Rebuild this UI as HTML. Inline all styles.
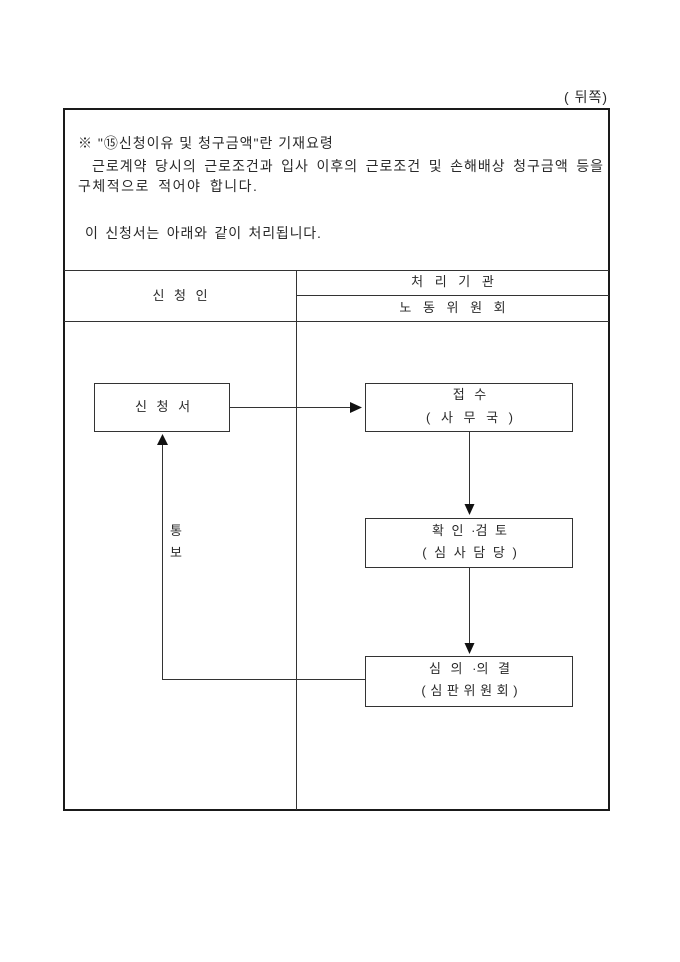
<!DOCTYPE html>
<html>
<head>
<meta charset="utf-8">
<style>
  html,body{margin:0;padding:0;background:#fff;}
  body{width:680px;height:962px;position:relative;overflow:hidden;
    font-family:"Liberation Sans","Noto Sans CJK KR","NanumGothic",sans-serif;color:#2a2a2a;font-size:13px;}
  .t{position:absolute;line-height:16px;white-space:nowrap;}
  .p{font-size:14px;}
  .c{text-align:center;}
  svg{position:absolute;left:0;top:0;}
</style>
</head>
<body>
<svg width="680" height="962" viewBox="0 0 680 962">
  <g fill="none" stroke="#333" stroke-width="1">
    <rect x="64" y="109" width="545" height="701" stroke="#1a1a1a" stroke-width="2"/>
    <line x1="64" y1="270.5" x2="609" y2="270.5"/>
    <line x1="296" y1="295.5" x2="609" y2="295.5"/>
    <line x1="64" y1="321.5" x2="609" y2="321.5"/>
    <line x1="296.5" y1="270" x2="296.5" y2="810"/>
    <rect x="94.5" y="383.5" width="135" height="48"/>
    <rect x="365.5" y="383.5" width="207" height="48"/>
    <rect x="365.5" y="518.5" width="207" height="49"/>
    <rect x="365.5" y="656.5" width="207" height="50"/>
    <line x1="229" y1="407.5" x2="351" y2="407.5"/>
    <line x1="469.5" y1="431" x2="469.5" y2="505"/>
    <line x1="469.5" y1="567" x2="469.5" y2="644"/>
    <polyline points="365,679.5 162.5,679.5 162.5,444"/>
  </g>
  <g fill="#111">
    <polygon points="350,402 362,407.5 350,413"/>
    <polygon points="464.5,504 474.5,504 469.5,515"/>
    <polygon points="464.5,643 474.5,643 469.5,654"/>
    <polygon points="157,445 168,445 162.5,434"/>
  </g>
</svg>

<div class="t p" style="right:72px;top:89px;letter-spacing:1px;">( 뒤쪽)</div>

<div class="t p" style="left:78px;top:135px;letter-spacing:1px;">※ "⑮신청이유 및 청구금액"란 기재요령</div>
<div class="t p" style="left:92px;top:158px;width:512px;text-align:justify;text-align-last:justify;white-space:normal;letter-spacing:1px;">근로계약 당시의 근로조건과 입사 이후의 근로조건 및 손해배상 청구금액 등을</div>
<div class="t p" style="left:78px;top:178px;letter-spacing:1.5px;word-spacing:3px;">구체적으로 적어야 합니다.</div>
<div class="t p" style="left:85px;top:225px;letter-spacing:0.8px;word-spacing:2px;">이 신청서는 아래와 같이 처리됩니다.</div>

<div class="t c" style="left:64px;width:232px;top:288px;word-spacing:6px;">신 청 인</div>
<div class="t c" style="left:296px;width:313px;top:274px;word-spacing:8px;">처 리 기 관</div>
<div class="t c" style="left:296px;width:313px;top:300px;word-spacing:8px;">노 동 위 원 회</div>

<div class="t c" style="left:95px;width:135px;top:399px;word-spacing:6px;">신 청 서</div>

<div class="t c" style="left:366px;width:207px;top:387px;word-spacing:6px;">접 수</div>
<div class="t c" style="left:366px;width:207px;top:410px;word-spacing:7px;">( 사 무 국 )</div>

<div class="t c" style="left:366px;width:207px;top:523px;word-spacing:4px;">확 인 ·검 토</div>
<div class="t c" style="left:366px;width:207px;top:545px;word-spacing:4px;">( 심 사 담 당 )</div>

<div class="t c" style="left:366px;width:207px;top:661px;word-spacing:6px;">심 의 ·의 결</div>
<div class="t c" style="left:366px;width:207px;top:683px;word-spacing:1px;">( 심 판 위 원 회 )</div>

<div class="t" style="left:170px;top:523px;">통</div>
<div class="t" style="left:170px;top:545px;">보</div>
</body>
</html>
